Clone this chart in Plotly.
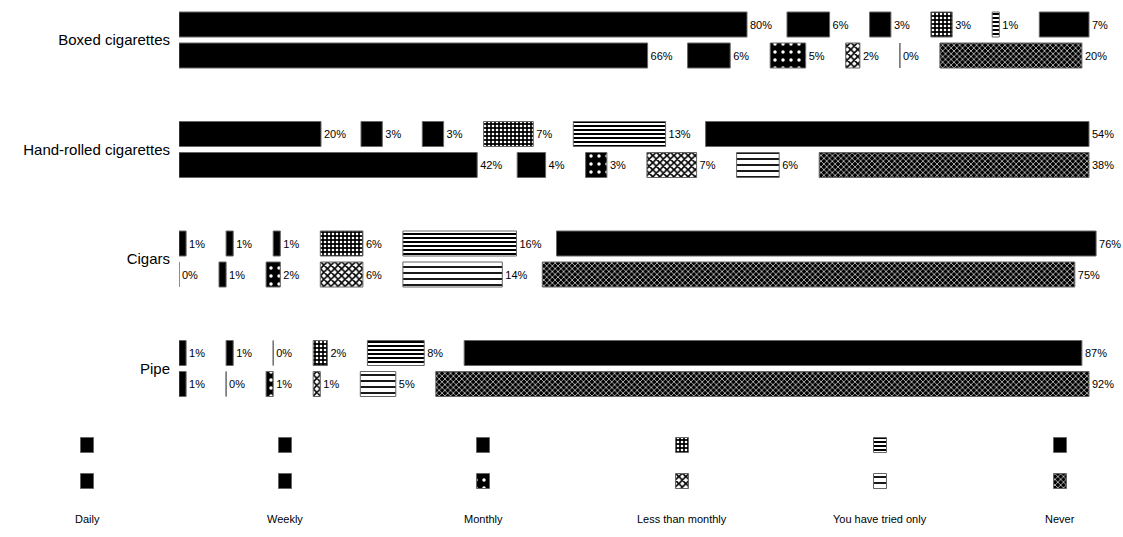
import plotly.graph_objects as go

# ---------------- data ----------------
categories = ["Boxed cigarettes", "Hand-rolled cigarettes", "Cigars", "Pipe"]
frequencies = ["Daily", "Weekly", "Monthly", "Less than monthly", "You have tried only", "Never"]

# first (upper) bar of each category, in frequency order
boxed_a = [80, 6, 3, 3, 1, 7]
handrolled_a = [20, 3, 3, 7, 13, 54]
cigars_a = [1, 1, 1, 6, 16, 76]
pipe_a = [1, 1, 0, 2, 8, 87]

# second (lower) bar of each category, in frequency order
boxed_b = [66, 6, 5, 2, 0, 20]
handrolled_b = [42, 4, 3, 7, 6, 38]
cigars_b = [0, 1, 2, 6, 14, 75]
pipe_b = [1, 0, 1, 1, 5, 92]

rows_a = [boxed_a, handrolled_a, cigars_a, pipe_a]
rows_b = [boxed_b, handrolled_b, cigars_b, pipe_b]

# ---------------- styles ----------------
FONT = "Liberation Sans Narrow, Liberation Sans, Arial, sans-serif"
W, H = 1123, 537
PX_PER_PCT = 7.1
X0_PX = 179
GAP = 40 / PX_PER_PCT            # blank space (for the label) between segments, in % units
X_MAX = (W - X0_PX) / PX_PER_PCT
GROUP_PX = 109.5
TOP_PX = 40                       # centre of first group
MAIN_H_PX = 420
ROW_OFF = 15.5 / GROUP_PX
BAR_W = 25 / GROUP_PX

solid = dict(color="black")
style_a = [
    solid, solid, solid,
    dict(color="black", pattern=dict(shape=".", fgcolor="white", bgcolor="black", size=4, solidity=0.35, fillmode="replace")),
    dict(color="black", pattern=dict(shape="-", fgcolor="black", bgcolor="white", size=4, solidity=0.5, fillmode="replace")),
    solid,
]
style_b = [
    solid, solid,
    dict(color="black", pattern=dict(shape=".", fgcolor="white", bgcolor="black", size=8, solidity=0.15, fillmode="replace")),
    dict(color="black", pattern=dict(shape="x", fgcolor="black", bgcolor="white", size=5, solidity=0.55, fillmode="replace")),
    dict(color="black", pattern=dict(shape="-", fgcolor="black", bgcolor="white", size=6, solidity=0.3, fillmode="replace")),
    dict(color="black", pattern=dict(shape="x", fgcolor="white", bgcolor="black", size=4, solidity=0.3, fillmode="replace")),
]

fig = go.Figure()

for rows, styles, off in [(rows_a, style_a, -ROW_OFF), (rows_b, style_b, ROW_OFF)]:
    for k, freq in enumerate(frequencies):
        xs = [r[k] for r in rows]
        bases = [sum(r[:k]) + k * GAP for r in rows]
        ys = [i + off for i in range(len(categories))]
        mk = dict(styles[k])
        mk["line"] = dict(color="#666666", width=1)
        fig.add_trace(go.Bar(
            x=xs, y=ys, base=bases, orientation="h", width=BAR_W,
            marker=mk, text=[f"{v}%" for v in xs], textposition="outside",
            textfont=dict(family=FONT, size=11, color="black"),
            outsidetextfont=dict(family=FONT, size=11, color="black"),
            constraintext="none", cliponaxis=False, showlegend=False,
            name=freq, hoverinfo="skip",
        ))

# ---------------- custom legend (two swatches per frequency) ----------------
LEGEND_X = [87, 285, 483, 682, 880, 1060]
SW_Y = [445, 481]
SW_W, SW_H = 13, 15
for styles, yy in [(style_a, SW_Y[0]), (style_b, SW_Y[1])]:
    for k, freq in enumerate(frequencies):
        mk = dict(styles[k])
        mk["line"] = dict(color="#666666", width=1)
        fig.add_trace(go.Bar(
            x=[SW_W], y=[yy], base=[LEGEND_X[k] - SW_W / 2], orientation="h", width=SW_H,
            marker=mk, xaxis="x2", yaxis="y2", showlegend=False, hoverinfo="skip",
        ))

annotations = []
for k, freq in enumerate(frequencies):
    annotations.append(dict(x=LEGEND_X[k], y=519, xref="x2", yref="y2", text=freq,
                            showarrow=False, font=dict(family=FONT, size=11, color="black"),
                            xanchor="center", yanchor="middle"))

y_top = -TOP_PX / GROUP_PX
y_bot = y_top + MAIN_H_PX / GROUP_PX
main_bottom = 1 - MAIN_H_PX / H

fig.update_layout(
    template="none",
    width=W, height=H,
    margin=dict(l=0, r=0, t=0, b=0, pad=0),
    paper_bgcolor="white", plot_bgcolor="white",
    barmode="overlay",
    font=dict(family=FONT, color="black"),
    xaxis=dict(domain=[X0_PX / W, 1], range=[0, X_MAX], visible=False, fixedrange=True),
    yaxis=dict(domain=[main_bottom, 1], range=[y_bot, y_top],
               tickvals=list(range(len(categories))), ticktext=categories,
               ticks="outside", ticklen=5, tickcolor="rgba(0,0,0,0)",
               showgrid=False, zeroline=False, showline=False,
               tickfont=dict(family=FONT, size=15, color="black")),
    xaxis2=dict(domain=[0, 1], range=[0, W], visible=False, anchor="y2"),
    yaxis2=dict(domain=[0, main_bottom], range=[H, MAIN_H_PX], visible=False, anchor="x2"),
    annotations=annotations,
    showlegend=False,
)

fig.write_html("out.html", config={"displayModeBar": False, "staticPlot": True},
               post_script="document.body.style.margin='0';document.body.style.overflow='hidden';")
